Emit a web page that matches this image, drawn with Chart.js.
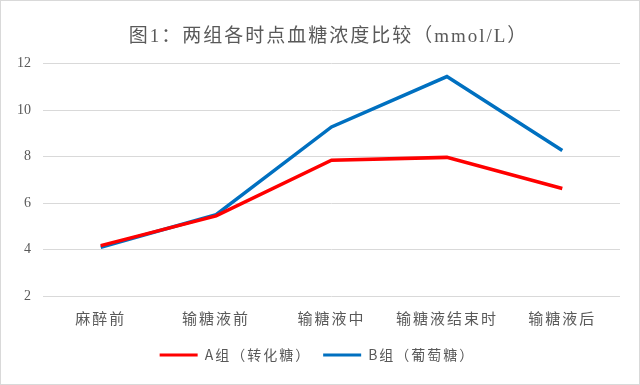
<!DOCTYPE html>
<html lang="zh">
<head>
  <meta charset="UTF-8">
  <title>图1：两组各时点血糖浓度比较</title>
  <script src="https://cdn.jsdelivr.net/npm/chart.js"></script>
  <style>
    body {
      margin: 0;
      padding: 0;
      background-color: white;
    }

    #chartBox {
      width: 640px;
      height: 385px;
      box-sizing: border-box;
      border: 1px solid #d9d9d9;
      background-color: white;
    }
  </style>
</head>
<body>

<div id="chartBox">
  <canvas id="sugarChart" width="638" height="383"></canvas>
</div>

<script>
  // data
  var timePoints = ['麻醉前', '输糖液前', '输糖液中', '输糖液结束时', '输糖液后'];
  var groupA = [4.17, 5.45, 7.85, 7.97, 6.63];   // A组（转化糖）
  var groupB = [4.1, 5.5, 9.28, 11.45, 8.27];    // B组（葡萄糖）
  var yTicks = [2, 4, 6, 8, 10, 12];

  var grey = '#595959';
  var cjk = '"Noto Sans CJK SC", "Noto Sans", sans-serif';

  // the Office-style CJK text is spaced out a little,
  // title and legend sit slightly right of the canvas centre
  var spacedText = {
    id: 'spacedText',
    beforeUpdate: function (chart) {
      chart.ctx.letterSpacing = '2px';
    },
    beforeDraw: function (chart) {
      chart.legend.left = 7;
      chart.legend.right = chart.width - 19 + 7;
      chart.titleBlock.left = 18;
      chart.titleBlock.right = chart.width - 19 + 18;
    }
  };

  var ctx = document.getElementById('sugarChart').getContext('2d');

  var sugarChart = new Chart(ctx, {
    type: 'line',
    data: {
      labels: timePoints,
      datasets: [{
        label: 'A组（转化糖）',
        data: groupA,
        borderColor: '#ff0000',
        backgroundColor: '#ff0000',
        borderWidth: 3.5,
        pointRadius: 0,
        tension: 0
      }, {
        label: 'B组（葡萄糖）',
        data: groupB,
        borderColor: '#0070c0',
        backgroundColor: '#0070c0',
        borderWidth: 3.5,
        pointRadius: 0,
        tension: 0
      }]
    },
    plugins: [spacedText],
    options: {
      responsive: false,
      animation: false,
      layout: {
        padding: { left: 0, right: 19, top: 0, bottom: 12 }
      },
      scales: {
        y: {
          min: yTicks[0],
          max: yTicks[yTicks.length - 1],
          afterBuildTicks: function (scale) {
            scale.ticks = yTicks.map(function (v) { return { value: v }; });
          },
          afterFit: function (scale) {
            scale.width = 42;
            // numbers are not spaced out
            var draw = scale.drawLabels;
            scale.drawLabels = function (area) {
              scale.ctx.letterSpacing = '0px';
              draw.call(scale, area);
              scale.ctx.letterSpacing = '2px';
            };
          },
          border: { display: false },
          grid: {
            color: '#d9d9d9',
            lineWidth: 1,
            drawTicks: false
          },
          ticks: {
            padding: 12,
            color: grey,
            font: { family: '"Liberation Serif", serif', size: 14 }
          }
        },
        x: {
          offset: true,
          afterFit: function (scale) {
            scale.height = 40;
          },
          border: { display: false },
          grid: { display: false, drawTicks: false },
          ticks: {
            padding: 13,
            color: grey,
            maxRotation: 0,
            font: { family: cjk, size: 15 }
          }
        }
      },
      plugins: {
        title: {
          display: true,
          text: '图1：两组各时点血糖浓度比较（mmol/L）',
          color: grey,
          font: { family: '"Liberation Serif", ' + cjk, size: 19, weight: 'normal' },
          padding: { top: 25, bottom: 15 }
        },
        legend: {
          position: 'bottom',
          labels: {
            color: grey,
            boxWidth: 38,
            boxHeight: 3,
            padding: 12,
            font: { family: cjk, size: 14 },
            generateLabels: function (chart) {
              var items = Chart.defaults.plugins.legend.labels.generateLabels(chart);
              items.forEach(function (item) { item.lineWidth = 0; });
              return items;
            }
          }
        },
        tooltip: { enabled: false }
      }
    }
  });
</script>

</body>
</html>
